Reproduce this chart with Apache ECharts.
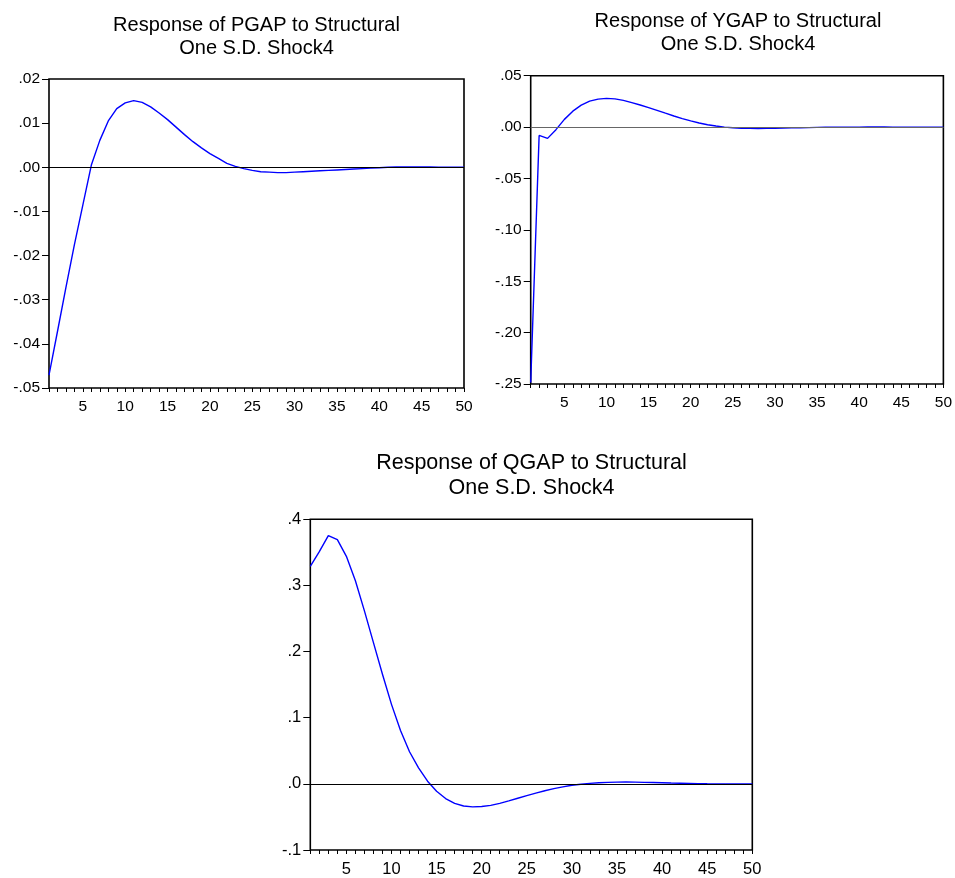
<!DOCTYPE html>
<html>
<head>
<meta charset="utf-8">
<script src="https://cdn.jsdelivr.net/npm/echarts@6/dist/echarts.min.js"></script>
<style>
  html, body { margin: 0; padding: 0; background: #fff; }
  #chart { width: 955px; height: 878px; }
</style>
</head>
<body>
<div id="chart"></div>
<script>
// ---- data ----
const periods = [1,2,3,4,5,6,7,8,9,10,11,12,13,14,15,16,17,18,19,20,21,22,23,24,25,
                 26,27,28,29,30,31,32,33,34,35,36,37,38,39,40,41,42,43,44,45,46,47,48,49,50];

const pgap = [-0.0471,-0.0372,-0.0272,-0.0175,-0.0085,0.0005,0.0061,0.0105,0.0133,0.0146,
              0.0151,0.0147,0.0137,0.0123,0.0108,0.0091,0.0074,0.0058,0.0044,0.0031,
              0.0020,0.0009,0.0002,-0.0003,-0.0007,-0.0010,-0.0011,-0.0012,-0.0012,-0.0011,
              -0.0010,-0.0009,-0.0008,-0.0007,-0.0006,-0.0005,-0.0004,-0.0003,-0.0002,-0.0001,
              0.0000,0.0001,0.0001,0.0001,0.0001,0.0001,0.0000,0.0000,0.0000,0.0000];

const ygap = [-0.2485,-0.0081,-0.0110,-0.0025,0.0075,0.0155,0.0213,0.0252,0.0272,0.0279,
              0.0274,0.0260,0.0238,0.0215,0.0190,0.0163,0.0135,0.0108,0.0083,0.0060,
              0.0040,0.0023,0.0010,0.0000,-0.0007,-0.0011,-0.0013,-0.0014,-0.0013,-0.0012,
              -0.0010,-0.0008,-0.0006,-0.0005,-0.0003,-0.0002,-0.0001,0.0000,0.0000,0.0000,
              0.0001,0.0001,0.0001,0.0000,0.0000,0.0000,0.0000,0.0000,0.0000,0.0000];

const qgap = [0.3288,0.3510,0.3753,0.3692,0.3440,0.3070,0.2616,0.2136,0.1657,0.1202,
              0.0808,0.0485,0.0242,0.0040,-0.0111,-0.0222,-0.0295,-0.0335,-0.0348,-0.0343,
              -0.0325,-0.0295,-0.0258,-0.0218,-0.0178,-0.0140,-0.0104,-0.0072,-0.0045,-0.0022,
              -0.0005,0.0008,0.0017,0.0023,0.0026,0.0027,0.0026,0.0023,0.0020,0.0016,
              0.0012,0.0009,0.0006,0.0003,0.0001,0.0000,-0.0001,-0.0001,-0.0001,0.0000];

const titles = [
  'Response of PGAP to Structural\nOne S.D. Shock4',
  'Response of YGAP to Structural\nOne S.D. Shock4',
  'Response of QGAP to Structural\nOne S.D. Shock4'
];

// y-axis scales: [min, max, interval, decimals of tick labels]
const yScalePGAP = [-0.05, 0.02, 0.01, 2];
const yScaleYGAP = [-0.25, 0.05, 0.05, 2];
const yScaleQGAP = [-0.1, 0.4, 0.1, 1];
const xLabelStep = 5;

// ---- chart ----
const FONT = '"Liberation Sans", Arial, sans-serif';

function fmt(dec) {
  return function (v) {
    let s = Number(v).toFixed(dec);
    if (s === '-' + (0).toFixed(dec)) s = (0).toFixed(dec);
    return s.replace(/^(-?)0\./, '$1.');
  };
}

function makeX(gi, fs, margin) {
  return {
    type: 'category', gridIndex: gi, data: periods.map(String), boundaryGap: false,
    position: 'bottom',
    axisLine: { show: false, onZero: false },
    axisTick: { show: true, interval: 0, length: 4, lineStyle: { color: '#000', width: 1 } },
    axisLabel: {
      interval: function (i, v) { return Number(v) % xLabelStep === 0; },
      color: '#000', fontSize: fs, fontFamily: FONT, margin: margin
    },
    splitLine: { show: false }
  };
}

function makeY(gi, sc, fs, margin) {
  return {
    type: 'value', gridIndex: gi, min: sc[0], max: sc[1], interval: sc[2],
    position: 'left',
    axisLine: { show: false, onZero: false },
    axisTick: { show: true, length: 7, lineStyle: { color: '#000', width: 1 } },
    axisLabel: {
      formatter: fmt(sc[3]), color: '#000', fontSize: fs, fontFamily: FONT,
      margin: margin, padding: [0, 0, 3, 0]
    },
    splitLine: { show: false }
  };
}

function makeSeries(idx, data, zeroColor) {
  return {
    type: 'line', xAxisIndex: idx, yAxisIndex: idx, data: data,
    symbol: 'none', smooth: false,
    lineStyle: { color: '#0000ff', width: 1.4 },
    itemStyle: { color: '#0000ff' },
    markLine: {
      silent: true, symbol: ['none', 'none'], label: { show: false },
      lineStyle: { color: zeroColor, type: 'solid', width: 1 },
      emphasis: { disabled: true },
      data: [{ yAxis: 0 }]
    },
    z: 3
  };
}

function titleText(txt, x, y, fs, lh) {
  return {
    type: 'text', x: x, y: y, silent: true,
    style: {
      text: txt, align: 'center', textAlign: 'center',
      verticalAlign: 'top', textVerticalAlign: 'top',
      fontSize: fs, fontFamily: FONT, lineHeight: lh, fill: '#000'
    }
  };
}

const chart = echarts.init(document.getElementById('chart'), null, { renderer: 'canvas' });
chart.setOption({
  animation: false,
  backgroundColor: '#fff',
  graphic: [
    titleText(titles[0], 256.5, 14, 20, 23),
    titleText(titles[1], 738, 9.5, 20, 23),
    titleText(titles[2], 531.5, 451, 21.5, 25)
  ],
  grid: [
    { left: 49, top: 79, width: 415, height: 309, show: true, borderColor: '#000', borderWidth: 1.6, backgroundColor: 'transparent' },
    { left: 530.7, top: 75.7, width: 415.3, height: 308.3, show: true, borderColor: '#000', borderWidth: 1.6, backgroundColor: 'transparent' },
    { left: 310.3, top: 519.3, width: 442, height: 331.4, show: true, borderColor: '#000', borderWidth: 1.6, backgroundColor: 'transparent' }
  ],
  xAxis: [makeX(0, 15.5, 10.5), makeX(1, 15.5, 10.5), makeX(2, 16.5, 11)],
  yAxis: [makeY(0, yScalePGAP, 15.5, 9), makeY(1, yScaleYGAP, 15.5, 9), makeY(2, yScaleQGAP, 16.5, 9)],
  series: [
    makeSeries(0, pgap, '#000'),
    makeSeries(1, ygap, '#666'),
    makeSeries(2, qgap, '#000')
  ]
});
</script>
</body>
</html>
